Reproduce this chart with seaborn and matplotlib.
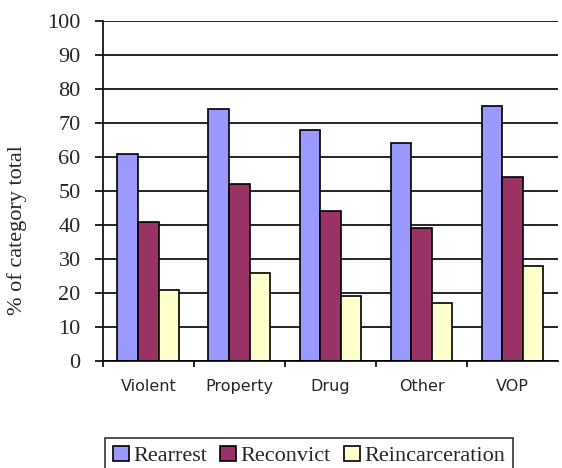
import pandas as pd
import matplotlib.pyplot as plt
import seaborn as sns
from matplotlib.ticker import FixedLocator

categories = ["Violent", "Property", "Drug", "Other", "VOP"]
series = ["Rearrest", "Reconvict", "Reincarceration"]
rearrest = [61, 74, 68, 64, 75]
reconvict = [41, 52, 44, 39, 54]
reincarceration = [21, 26, 19, 17, 28]
colors = ["#9999FF", "#993366", "#FFFFCC"]

df = pd.DataFrame({
    "Category": categories * 3,
    "Measure": [s for s in series for _ in categories],
    "Value": rearrest + reconvict + reincarceration,
})

sns.set_style("white")
serif = ["Liberation Serif", "DejaVu Serif"]

fig = plt.figure(figsize=(5.62, 4.68), dpi=100)
ax = fig.add_axes([0.183, 0.2286, 0.81, 0.7265])

sns.barplot(
    data=df, x="Category", y="Value", hue="Measure",
    order=categories, hue_order=series, palette=colors,
    width=0.68, gap=0, edgecolor="black", linewidth=1.2,
    saturation=1, ax=ax, legend=True,
)

ax.set_ylim(0, 100)
ax.set_xlim(-0.5, 4.5)
ax.set_yticks(range(0, 101, 10))
ax.yaxis.grid(True, color="black", linewidth=1.2)
ax.set_axisbelow(True)

for side in ["top", "right"]:
    ax.spines[side].set_visible(False)
for side in ["left", "bottom"]:
    ax.spines[side].set_color("black")
    ax.spines[side].set_linewidth(1.2)

ax.tick_params(axis="y", which="major", direction="out", length=6, width=1.2,
               color="black", pad=10, left=True)
ax.tick_params(axis="x", which="major", length=0, pad=13)
ax.xaxis.set_minor_locator(FixedLocator([-0.5, 0.5, 1.5, 2.5, 3.5]))
ax.tick_params(axis="x", which="minor", direction="out", length=4.5, width=1.2,
               color="black", bottom=True)

for lab in ax.get_yticklabels():
    lab.set_fontfamily(serif)
    lab.set_fontsize(16)
for lab in ax.get_xticklabels():
    lab.set_fontfamily("DejaVu Sans")
    lab.set_fontsize(11.5)

ax.set_xlabel("")
ax.set_ylabel("% of category total", family=serif, fontsize=16)
ax.yaxis.set_label_coords(-0.166, 0.385)

ax.get_legend().remove()
handles, labels = ax.get_legend_handles_labels()
leg = fig.legend(
    handles, labels, loc="upper center", bbox_to_anchor=(0.55, 1 - 427 / 468),
    ncol=3, frameon=True, fancybox=False, edgecolor="black",
    prop={"family": serif, "size": 16}, handlelength=0.7, handleheight=0.7,
    handletextpad=0.2, columnspacing=0.6, borderpad=0.35,
)
leg.get_frame().set_linewidth(1.2)

fig.savefig("out.png", dpi=100)
